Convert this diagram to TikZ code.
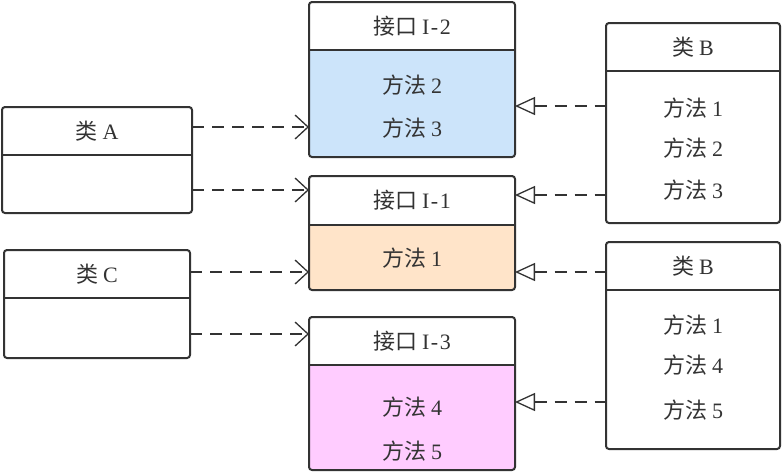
\documentclass[tikz,border=0pt]{standalone}
\usepackage{fontspec}
\setmainfont{Liberation Serif}
\newfontfamily\cjk{Noto Sans CJK SC}
\usetikzlibrary{arrows.meta}

\definecolor{linegray}{HTML}{333333}
\definecolor{ifblue}{HTML}{CCE4FA}
\definecolor{iforange}{HTML}{FFE4C9}
\definecolor{ifpink}{HTML}{FFCCFF}

\newcommand{\ff}[1]{{\cjk 方法}\kern5pt#1}
\newcommand{\lei}[1]{{\cjk 类}\kern5pt#1}
\newcommand{\jk}[1]{{\cjk 接口}\kern5pt I\kern1.5pt-\kern1.5pt#1}

\begin{document}
\begin{tikzpicture}[x=1pt, y=-1pt,
	every node/.style={inner sep=0pt, outer sep=0pt, text=linegray, font=\fontsize{22}{26}\selectfont},
	frame/.style={draw=linegray, line width=2pt, rounded corners=3pt},
	uses/.style={draw=linegray, line width=1.3pt, dash pattern=on 12pt off 8pt, -{Straight Barb[length=13pt, width=24pt]}},
	impl/.style={draw=linegray, line width=1.3pt, dash pattern=on 12pt off 8pt, {Triangle[open, length=20pt, width=18pt, fill=white]}-}]
	\useasboundingbox (0,0) rectangle (782,475);
	% classes on the left
	\node[minimum width=190, minimum height=48] (headA) at (97,131) {\lei{A}};
	\node[minimum width=190, minimum height=58] (bodyA) at (97,184) {};
	\node[minimum width=186, minimum height=48] (headC) at (97,274) {\lei{C}};
	\node[minimum width=186, minimum height=60] (bodyC) at (97,328) {};
	% interfaces
	\node[minimum width=206, minimum height=48] (headI2) at (412,26) {\jk{2}};
	\node[minimum width=206, minimum height=107, fill=ifblue] (bodyI2) at (412,103.5) {};
	\node (m2I2) at (412,85) {\ff{2}};
	\node (m3I2) at (412,128) {\ff{3}};
	\node[minimum width=206, minimum height=49] (headI1) at (412,200.5) {\jk{1}};
	\node[minimum width=206, minimum height=65, fill=iforange] (bodyI1) at (412,257.5) {};
	\node (m1I1) at (412,258) {\ff{1}};
	\node[minimum width=206, minimum height=48] (headI3) at (412,341) {\jk{3}};
	\node[minimum width=206, minimum height=105, fill=ifpink] (bodyI3) at (412,417.5) {};
	\node (m4I3) at (412,407) {\ff{4}};
	\node (m5I3) at (412,451) {\ff{5}};
	% classes on the right
	\node[minimum width=174, minimum height=48] (headB1) at (693,47) {\lei{B}};
	\node[minimum width=174, minimum height=152] (bodyB1) at (693,147) {};
	\node (m1B1) at (693,108) {\ff{1}};
	\node (m2B1) at (693,148) {\ff{2}};
	\node (m3B1) at (693,190) {\ff{3}};
	\node[minimum width=174, minimum height=48] (headB2) at (693,266) {\lei{B}};
	\node[minimum width=174, minimum height=159] (bodyB2) at (693,369.5) {};
	\node (m1B2) at (693,325) {\ff{1}};
	\node (m4B2) at (693,365) {\ff{4}};
	\node (m5B2) at (693,410) {\ff{5}};
	% frames
	\foreach \n in {A,C,I1,I2,I3,B1,B2} {
		\draw[frame] (head\n.north west) rectangle (body\n.south east);
		\draw[draw=linegray, line width=2pt] (head\n.south west) -- (head\n.south east);
	}
	% dependencies
	\draw[uses] ([yshift=4pt]headA.east) coordinate (p1) -- (p1 -| bodyI2.west);
	\draw[uses] ([yshift=-6pt]bodyA.east) coordinate (p2) -- (p2 -| headI1.west);
	\draw[uses] ([yshift=2pt]headC.east) coordinate (p3) -- (p3 -| bodyI1.west);
	\draw[uses] ([yshift=-6pt]bodyC.east) coordinate (p4) -- (p4 -| headI3.west);
	% realizations
	\draw[impl] ([yshift=-2.5pt]bodyI2.east) coordinate (q1) -- (q1 -| bodyB1.west);
	\draw[impl] ([yshift=5.5pt]headI1.east) coordinate (q2) -- (q2 -| bodyB1.west);
	\draw[impl] ([yshift=-14.5pt]bodyI1.east) coordinate (q3) -- (q3 -| headB2.west);
	\draw[impl] ([yshift=15.5pt]bodyI3.east) coordinate (q4) -- (q4 -| bodyB2.west);
\end{tikzpicture}
\end{document}
